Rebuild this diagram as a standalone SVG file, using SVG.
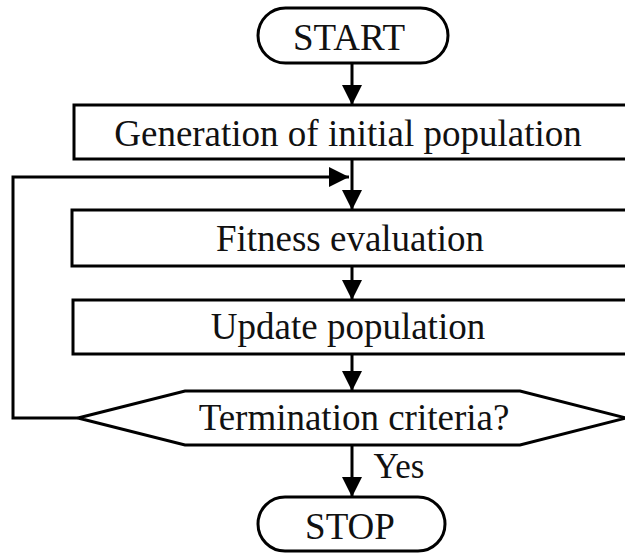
<svg xmlns="http://www.w3.org/2000/svg" width="625" height="553" viewBox="0 0 625 553">
<style>
.s{fill:#fff;stroke:#000;stroke-width:3}
.t{font-family:"Liberation Serif","Times New Roman",serif;font-size:37px;fill:#111;text-anchor:middle}
.c{fill:none;stroke:#000;stroke-width:3}
</style>
<defs>
<marker id="ah" markerWidth="20" markerHeight="20" viewBox="0 0 20 20" refX="20" refY="10" orient="auto" markerUnits="userSpaceOnUse">
<path d="M0,0 L20,10 L0,20 Z" fill="#000"/>
</marker>
</defs>
<rect width="625" height="553" fill="#fff"/>
<g id="start">
<rect class="s" x="258" y="8" width="190" height="55" rx="27.5"/>
<text class="t" x="349" y="50">START</text>
</g>
<g id="gen">
<rect class="s" x="74" y="105" width="580" height="54"/>
<text class="t" x="348" y="146">Generation of initial population</text>
</g>
<g id="fit">
<rect class="s" x="72" y="210" width="580" height="56"/>
<text class="t" x="350" y="251">Fitness evaluation</text>
</g>
<g id="upd">
<rect class="s" x="73" y="300" width="580" height="54"/>
<text class="t" x="348" y="339">Update population</text>
</g>
<g id="term">
<polygon class="s" points="78,418 185,391 520,391 626,418 520,445 185,445"/>
<text class="t" x="354" y="430">Termination criteria?</text>
</g>
<g id="stop">
<rect class="s" x="258" y="497" width="187" height="54" rx="27"/>
<text class="t" x="350" y="539">STOP</text>
</g>
<g id="connectors">
<line class="c" x1="352" y1="63" x2="352" y2="105" marker-end="url(#ah)"/>
<line class="c" x1="352" y1="159" x2="352" y2="210" marker-end="url(#ah)"/>
<polyline class="c" points="78,418 13,418 13,177 349,177" marker-end="url(#ah)"/>
<line class="c" x1="352" y1="266" x2="352" y2="300" marker-end="url(#ah)"/>
<line class="c" x1="352" y1="354" x2="352" y2="391" marker-end="url(#ah)"/>
<line class="c" x1="352" y1="445" x2="352" y2="497" marker-end="url(#ah)"/>
<text class="t" x="399" y="478" style="font-size:35px">Yes</text>
</g>
</svg>
